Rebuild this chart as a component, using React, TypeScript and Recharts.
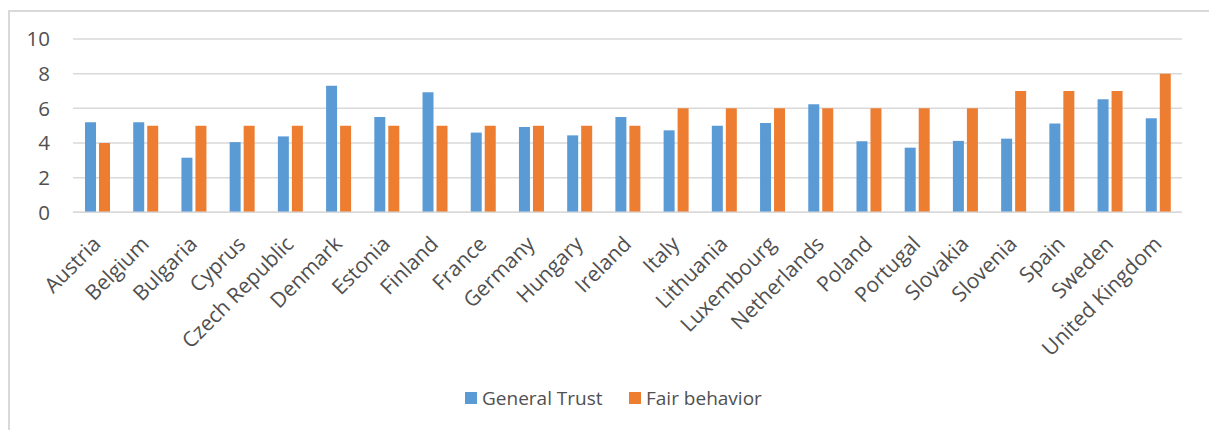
import React from 'react';
import { BarChart, Bar, XAxis, YAxis, CartesianGrid, Legend } from 'recharts';

const countries = [
  'Austria', 'Belgium', 'Bulgaria', 'Cyprus', 'Czech Republic', 'Denmark', 'Estonia', 'Finland',
  'France', 'Germany', 'Hungary', 'Ireland', 'Italy', 'Lithuania', 'Luxembourg', 'Netherlands',
  'Poland', 'Portugal', 'Slovakia', 'Slovenia', 'Spain', 'Sweden', 'United Kingdom',
];
const generalTrust = [
  5.2, 5.2, 3.15, 4.05, 4.38, 7.3, 5.5, 6.93,
  4.6, 4.92, 4.44, 5.5, 4.73, 5.0, 5.15, 6.23,
  4.1, 3.73, 4.12, 4.25, 5.13, 6.52, 5.42,
];
const fairBehavior = [
  4, 5, 5, 5, 5, 5, 5, 5,
  5, 5, 5, 5, 6, 6, 6, 6,
  6, 6, 6, 7, 7, 7, 8,
];
const yTicks = [0, 2, 4, 6, 8, 10];
const seriesNames = ['General Trust', 'Fair behavior'];

const BLUE = '#5B9BD5';
const ORANGE = '#ED7D31';
const TEXT = '#505050';
const GRID = '#D9D9D9';
const FONT = '"Open Sans", sans-serif';
const FS = 19;
const CAT_FS = 21;
const Y_FS = 20.5;

const data = countries.map((c, i) => ({
  country: c,
  trust: generalTrust[i],
  fair: fairBehavior[i],
}));

const CategoryTick = (props: any) => {
  const { x, y, payload } = props;
  const px = x + 5;
  const py = y + 33;
  return (
    <text
      x={px}
      y={py}
      transform={`rotate(-45 ${px} ${py})`}
      textAnchor="end"
      fill={TEXT}
      fontFamily={FONT}
      fontSize={CAT_FS}
    >
      {payload.value}
    </text>
  );
};

const renderLegend = (props: any) => {
  const payload = [...(props.payload || [])].sort(
    (a: any, b: any) => seriesNames.indexOf(a.value) - seriesNames.indexOf(b.value)
  );
  return (
    <div
      style={{
        display: 'flex',
        alignItems: 'center',
        height: 16,
        fontFamily: FONT,
        fontSize: FS,
        color: TEXT,
        whiteSpace: 'nowrap',
      }}
    >
      {payload.map((p: any, i: number) => (
        <div key={i} style={{ display: 'flex', alignItems: 'center', marginLeft: i === 0 ? 0 : 26 }}>
          <span style={{ display: 'inline-block', width: 12, height: 12, background: p.color }} />
          <span style={{ marginLeft: 5, display: 'inline-block', width: i === 0 ? 121 : 'auto', lineHeight: '16px' }}>
            {p.value}
          </span>
        </div>
      ))}
    </div>
  );
};

export default function App() {
  return (
    <div
      style={{
        position: 'absolute',
        left: 0,
        top: 0,
        width: 1209,
        height: 430,
        overflow: 'hidden',
        background: '#fff',
      }}
    >
      <div
        style={{
          position: 'absolute',
          left: 8,
          top: 10,
          width: 1300,
          height: 500,
          border: `2px solid ${GRID}`,
          boxSizing: 'border-box',
        }}
      />
      <div style={{ position: 'absolute', left: 0, top: 0 }}>
        <BarChart
          width={1209}
          height={430}
          data={data}
          margin={{ top: 39, right: 27, bottom: 17.7, left: 23 }}
          barSize={11}
          barGap={3}
          style={{ fontFamily: FONT }}
        >
          <CartesianGrid vertical={false} stroke={GRID} strokeWidth={1.5} />
          <XAxis
            dataKey="country"
            height={200}
            interval={0}
            tickSize={0}
            tickMargin={0}
            tickLine={false}
            axisLine={{ stroke: GRID, strokeWidth: 1.5 }}
            tick={<CategoryTick />}
          />
          <YAxis
            width={50}
            domain={[0, 10]}
            ticks={yTicks}
            interval={0}
            tickSize={0}
            tickMargin={23}
            axisLine={false}
            tickLine={false}
            tick={{ fill: TEXT, fontSize: Y_FS, fontFamily: FONT }}
          />
          <Legend
            layout="horizontal"
            align="center"
            verticalAlign="middle"
            itemSorter={null as any}
            content={renderLegend}
            wrapperStyle={{ left: 465, top: 390, width: 320, height: 16 }}
          />
          <Bar dataKey="trust" name={seriesNames[0]} fill={BLUE} isAnimationActive={false} />
          <Bar dataKey="fair" name={seriesNames[1]} fill={ORANGE} isAnimationActive={false} />
        </BarChart>
      </div>
    </div>
  );
}
